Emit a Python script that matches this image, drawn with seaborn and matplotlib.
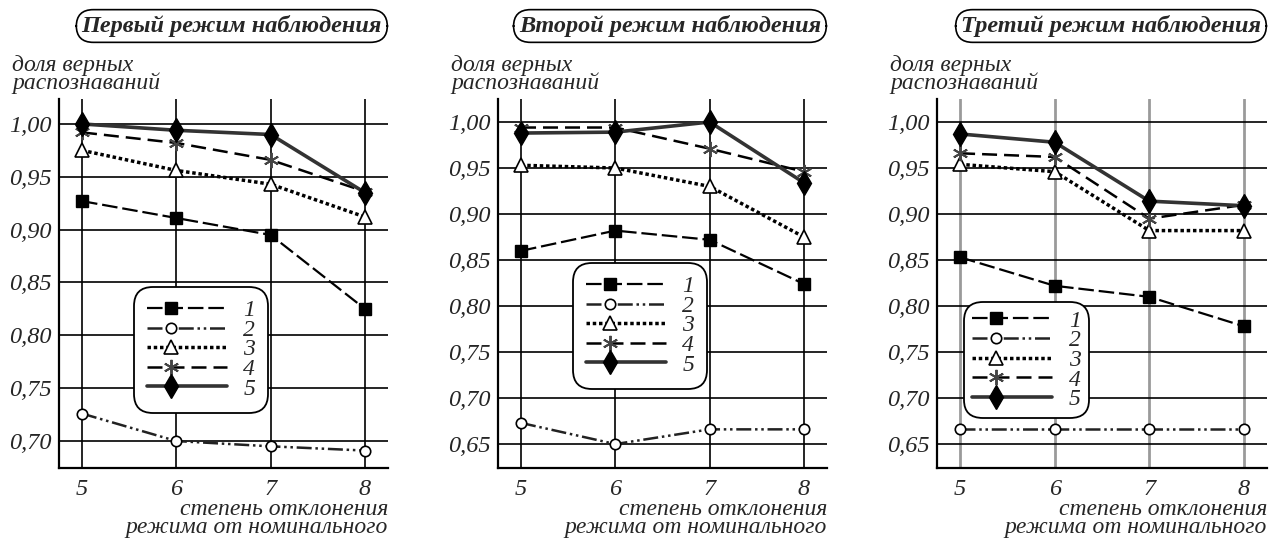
import matplotlib
matplotlib.use("Agg")
import matplotlib.pyplot as plt
import seaborn as sns
from matplotlib.ticker import FuncFormatter
from matplotlib.legend_handler import HandlerLine2D

# степень отклонения режима
stepen = [5, 6, 7, 8]

# первый режим наблюдения, кривые 1..5
r1_k1 = [0.927, 0.911, 0.895, 0.825]
r1_k2 = [0.726, 0.700, 0.695, 0.691]
r1_k3 = [0.975, 0.956, 0.943, 0.912]
r1_k4 = [0.992, 0.982, 0.966, 0.936]
r1_k5 = [1.000, 0.994, 0.990, 0.935]

# второй режим
r2_k1 = [0.860, 0.882, 0.872, 0.824]
r2_k2 = [0.673, 0.650, 0.666, 0.666]
r2_k3 = [0.953, 0.950, 0.930, 0.875]
r2_k4 = [0.994, 0.994, 0.971, 0.946]
r2_k5 = [0.988, 0.989, 1.000, 0.934]

# третий режим
r3_k1 = [0.853, 0.822, 0.810, 0.778]
r3_k2 = [0.666, 0.666, 0.666, 0.666]
r3_k3 = [0.954, 0.946, 0.882, 0.882]
r3_k4 = [0.966, 0.962, 0.895, 0.910]
r3_k5 = [0.987, 0.978, 0.914, 0.909]

nazvaniya = ["Первый режим наблюдения", "Второй режим наблюдения", "Третий режим наблюдения"]
metki = ["1", "2", "3", "4", "5"]
yticks_1 = [0.70, 0.75, 0.80, 0.85, 0.90, 0.95, 1.00]
yticks_23 = [0.65, 0.70, 0.75, 0.80, 0.85, 0.90, 0.95, 1.00]

sns.set_style("white")
plt.rcParams["font.family"] = ["Liberation Serif", "DejaVu Serif"]
plt.rcParams["font.style"] = "italic"

stili = [
    dict(color="black", linestyle=(0, (7, 2.2)), linewidth=1.6, marker="s",
         markersize=8, markerfacecolor="black", markeredgecolor="black", markeredgewidth=1),
    dict(color="#222222", linestyle=(0, (6, 1.5, 1, 1.5, 1, 1.5)), linewidth=1.8, marker="o",
         markersize=7.5, markerfacecolor="white", markeredgecolor="black", markeredgewidth=1.2),
    dict(color="black", linestyle=(0, (1, 0.8)), linewidth=2.5, marker="^",
         markersize=10, markerfacecolor="white", markeredgecolor="black", markeredgewidth=1.2),
    dict(color="black", linestyle=(0, (6, 2.8)), linewidth=1.8, marker=(6, 2, 0),
         markersize=11, markerfacecolor="#444444", markeredgecolor="#444444", markeredgewidth=1.4),
    dict(color="#333333", linestyle="-", linewidth=2.6, marker="d",
         markersize=12, markerfacecolor="black", markeredgecolor="black", markeredgewidth=1),
]

dannye = [
    [r1_k1, r1_k2, r1_k3, r1_k4, r1_k5],
    [r2_k1, r2_k2, r2_k3, r2_k4, r2_k5],
    [r3_k1, r3_k2, r3_k3, r3_k4, r3_k5],
]


class MarkerLeft(HandlerLine2D):
    # маркер в легенде ближе к левому краю, как в оригинале
    def create_artists(self, legend, orig_handle, xdescent, ydescent, width, height, fontsize, trans):
        arts = super().create_artists(legend, orig_handle, xdescent, ydescent,
                                      width, height, fontsize, trans)
        line = arts[0]
        x = line.get_xdata()
        line.set_xdata([x[0], x[0] + 0.3 * (x[-1] - x[0]), x[-1]])
        return arts


W, H = 1269, 538
fig = plt.figure(figsize=(W / 100, H / 100), dpi=100)

lefts = [59, 498, 937]
rights = [388, 827, 1267]
ax_top, ax_bot = 99, 468
ylims = [(0.6745, 1.0236), (0.624, 1.025), (0.624, 1.025)]
leg_pos = [(0.252, 0.469), (0.252, 0.534), (0.106, 0.428)]
leg_bpad = [0.2, 0.2, 0.0]

fmt = FuncFormatter(lambda v, p: f"{v:.2f}".replace(".", ","))

for i in range(3):
    ax = fig.add_axes([lefts[i] / W, 1 - ax_bot / H, (rights[i] - lefts[i]) / W, (ax_bot - ax_top) / H])
    for k in range(5):
        sns.lineplot(x=stepen, y=dannye[i][k], ax=ax, label=metki[k], zorder=3 + k, **stili[k])

    ax.set_xlim(4.756, 8.244)
    ax.set_ylim(*ylims[i])
    ax.set_xticks(stepen)
    ax.set_yticks(yticks_1 if i == 0 else yticks_23)
    ax.yaxis.set_major_formatter(fmt)
    ax.tick_params(length=0, labelsize=17.5)
    ax.tick_params(axis="y", pad=5)
    ax.tick_params(axis="x", pad=8)
    ax.set_axisbelow(True)
    ax.yaxis.grid(True, color="black", linewidth=1.2)
    if i == 2:
        ax.xaxis.grid(True, color="#9a9a9a", linewidth=2)
    else:
        ax.xaxis.grid(True, color="black", linewidth=1.2)
    for s in ["top", "right"]:
        ax.spines[s].set_visible(False)
    for s in ["left", "bottom"]:
        ax.spines[s].set_color("black")
        ax.spines[s].set_linewidth(1.6)
    ax.set_xlabel("")
    ax.set_ylabel("")

    handles, labels = ax.get_legend_handles_labels()
    leg = ax.legend(handles, labels, loc="upper left", bbox_to_anchor=leg_pos[i],
                    fontsize=17, handlelength=3.4, numpoints=1, labelspacing=-0.08,
                    handletextpad=0.7, borderpad=leg_bpad[i], borderaxespad=0, frameon=True,
                    fancybox=True, edgecolor="black", framealpha=1,
                    handler_map={h: MarkerLeft() for h in handles})
    fr = leg.get_frame()
    fr.set_linewidth(1.3)
    fr.set_boxstyle("round", pad=0.35, rounding_size=0.8)

    # заголовок в скруглённой рамке
    fig.text((rights[i] - 6) / W, 1 - 26 / H, nazvaniya[i], ha="right", va="center",
             fontsize=17.5, fontweight="bold",
             bbox=dict(boxstyle="round,pad=0.22,rounding_size=0.7", fc="white", ec="black", lw=1.2))
    fig.text((lefts[i] - 47) / W, 1 - 55 / H, "доля верных\nраспознаваний", ha="left", va="top",
             fontsize=17, linespacing=0.8)
    fig.text(rights[i] / W, 1 - 499 / H, "степень отклонения\nрежима от номинального",
             ha="right", va="top", fontsize=17, linespacing=0.8, multialignment="right")

fig.savefig("out.png", dpi=100)
